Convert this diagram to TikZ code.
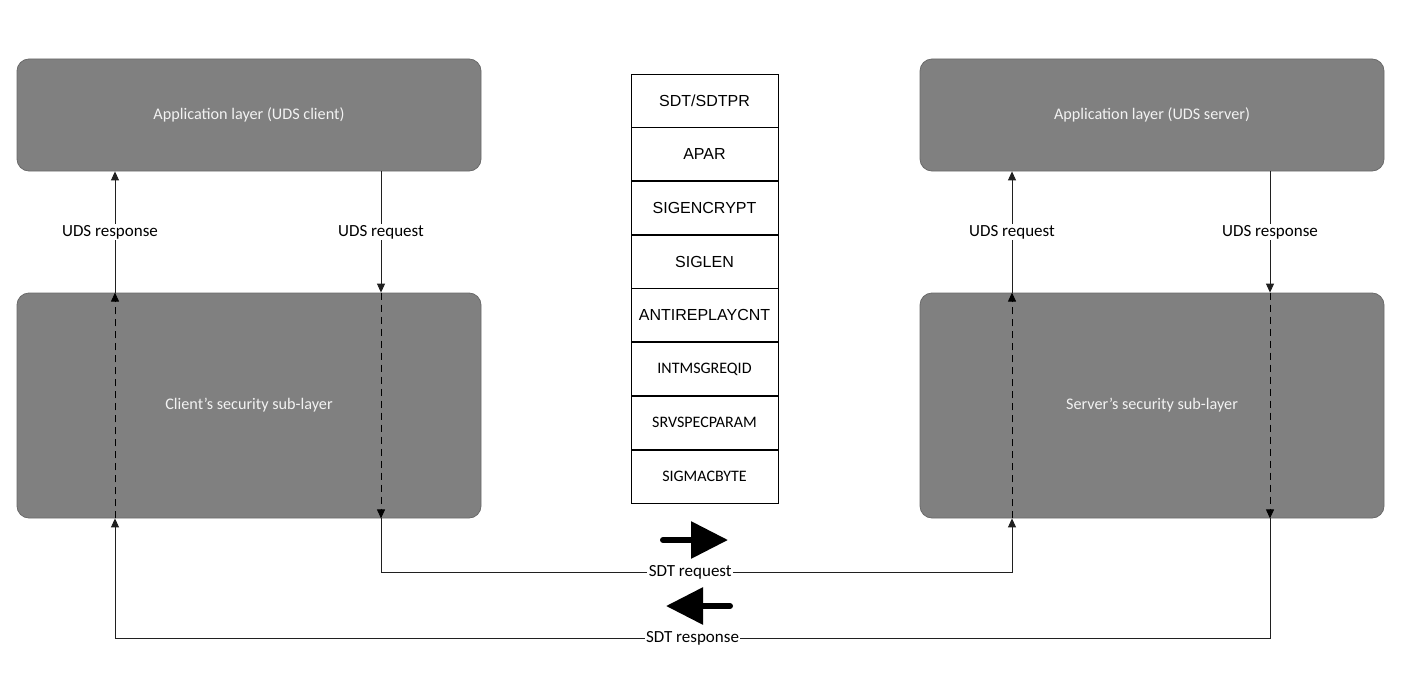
\documentclass[tikz,border=0pt]{standalone}
\usepackage{fontspec}
\setmainfont{Carlito}
\newfontfamily\arialf{Liberation Sans}
\usetikzlibrary{arrows.meta}
\definecolor{boxgray}{HTML}{808080}
\definecolor{boxedge}{HTML}{6A6A6A}
\definecolor{conngray}{HTML}{202020}
\newcommand{\apos}{\char"0027\relax}
\begin{document}
\begin{tikzpicture}[x=1pt,y=-1pt,
  layer/.style={draw=boxedge, line width=0.8pt, fill=boxgray, rounded corners=12pt, minimum width=464pt, inner sep=0pt, text=white!95!black, font=\fontsize{16.2}{19}\selectfont},
  field/.style={draw=black, line width=0.7pt, fill=white, minimum width=147pt, minimum height=53pt, inner sep=0pt},
  bigf/.style={font=\arialf\fontsize{16}{19}\selectfont},
  smallf/.style={font=\fontsize{16}{19}\selectfont},
  lbl/.style={fill=white, inner sep=1.5pt, font=\fontsize{17}{20}\selectfont},
  conn/.style={draw=conngray, line width=0.9pt},
  tip/.style={-{Triangle[length=9pt,width=8pt]}},
  dsh/.style={dash pattern=on 7pt off 5pt, line width=1pt, draw=black},
  bigarrow/.style={line width=6pt, line cap=round, -{Triangle[length=37pt,width=36pt]}}]
\useasboundingbox (0,0) rectangle (1418,677);
% layer boxes
\node[layer, minimum height=112pt] (appL) at (249,115) {Application layer (UDS client)};
\node[layer, minimum height=225pt] (secL) at (249,405.5) {Client\apos s security sub-layer};
\node[layer, minimum height=112pt] (appR) at (1152,115) {Application layer (UDS server)};
\node[layer, minimum height=225pt] (secR) at (1152,405.5) {Server\apos s security sub-layer};
% message structure
\node[field, bigf] (f1) at (704.5,100.5) {SDT/SDTPR};
\node[field, bigf, anchor=north] (f2) at (f1.south) {APAR};
\node[field, bigf, anchor=north] (f3) at (f2.south) {SIGENCRYPT};
\node[field, bigf, anchor=north] (f4) at (f3.south) {SIGLEN};
\node[field, bigf, anchor=north] (f5) at (f4.south) {ANTIREPLAYCNT};
\node[field, smallf, anchor=north] (f6) at (f5.south) {INTMSGREQID};
\node[field, smallf, anchor=north] (f7) at (f6.south) {SRVSPECPARAM};
\node[field, smallf, anchor=north] (f8) at (f7.south) {SIGMACBYTE};
% routing points
\coordinate (xl1) at (115,638);
\coordinate (xl2) at (381,572);
\coordinate (xr1) at (1012,572);
\coordinate (xr2) at (1270,638);
% request path
\draw[conn,tip] (appL.south -| xl2) -- node[lbl]{UDS request} (secL.north -| xl2);
\draw[conn,dsh,tip] (secL.north -| xl2) -- (secL.south -| xl2);
\draw[conn,tip] (secL.south -| xl2) -- (xl2) -- node[lbl, pos=0.49]{SDT request} (xr1) -- (secR.south -| xr1);
\draw[conn,dsh,tip] (secR.south -| xr1) -- (secR.north -| xr1);
\draw[conn,tip] (secR.north -| xr1) -- node[lbl]{UDS request} (appR.south -| xr1);
% response path
\draw[conn,tip] (appR.south -| xr2) -- node[lbl]{UDS response} (secR.north -| xr2);
\draw[conn,dsh,tip] (secR.north -| xr2) -- (secR.south -| xr2);
\draw[conn,tip] (secR.south -| xr2) -- (xr2) -- node[lbl, pos=0.5]{SDT response} (xl1) -- (secL.south -| xl1);
\draw[conn,dsh,tip] (secL.south -| xl1) -- (secL.north -| xl1);
\draw[conn,tip] (secL.north -| xl1) -- node[lbl, xshift=-5pt]{UDS response} (appL.south -| xl1);
% direction arrows
\coordinate (ra1) at (663,540);
\coordinate (ra2) at (728,540);
\coordinate (la1) at (730,606);
\coordinate (la2) at (666,606);
\draw[bigarrow] (ra1) -- (ra2);
\draw[bigarrow] (la1) -- (la2);
\end{tikzpicture}
\end{document}
